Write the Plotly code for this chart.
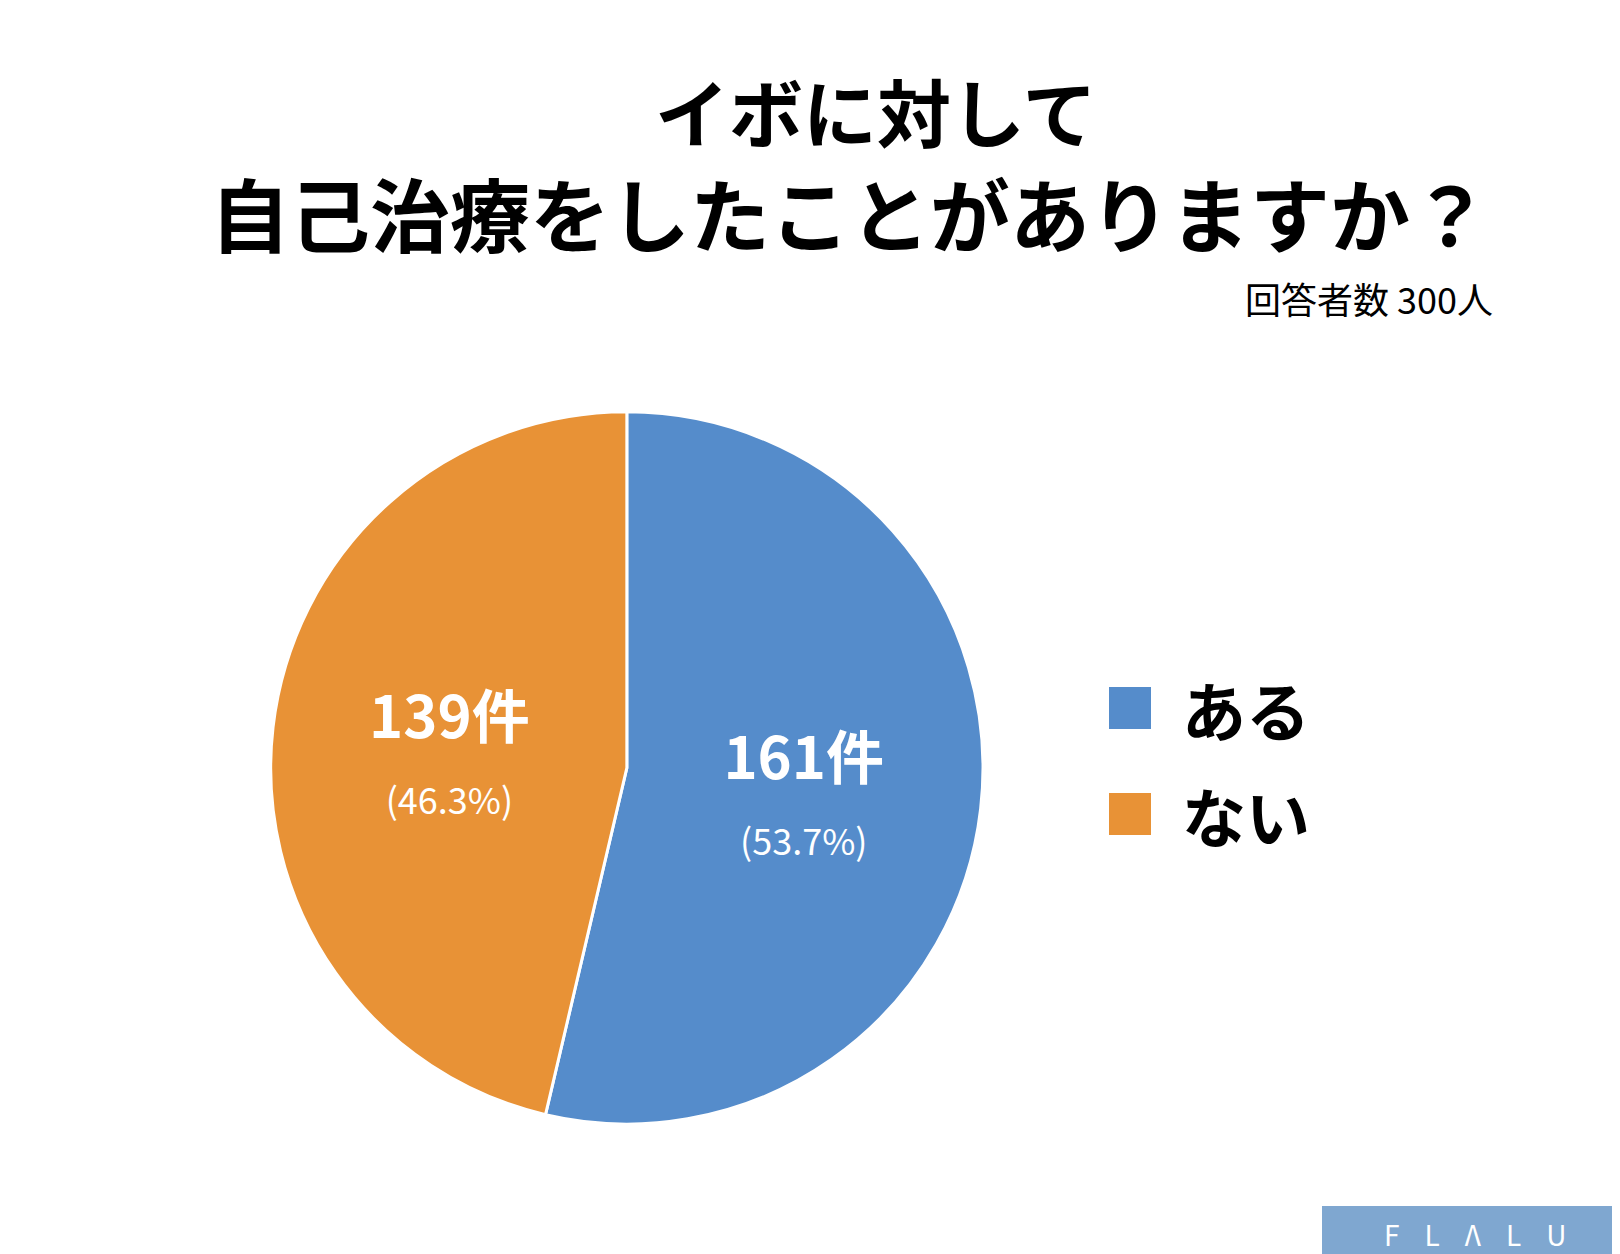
import plotly.graph_objects as go

labels = ["ある", "ない"]
counts = [161, 139]
colors = ["#558ccb", "#e89236"]
total = sum(counts)
pct = [f"{c / total * 100:.1f}" for c in counts]

W, H = 1620, 1254
font = "Noto Sans CJK JP"

fig = go.Figure(go.Pie(
    labels=labels,
    values=counts,
    sort=False,
    direction="clockwise",
    rotation=0,
    marker=dict(colors=colors, line=dict(color="white", width=3)),
    text=[f"<b>{c}件</b><br><span style='font-size:36px'>({p}%)</span>"
          for c, p in zip(counts, pct)],
    texttemplate="%{text}",
    textposition="inside",
    insidetextorientation="horizontal",
    textfont=dict(color="white", family=font, size=58),
    showlegend=False,
    hoverinfo="label+value",
    domain=dict(x=[0.161, 0.603], y=[0.110, 0.678]),
))

annotations = [
    dict(text="<b>イボに対して</b>", x=0.536, y=1 - 102 / H, font=dict(size=74, color="black")),
    dict(text="<b>自己治療をしたことがありますか？</b>", x=0.52, y=1 - 203 / H, font=dict(size=80, color="black")),
    dict(text="回答者数 300人", x=1487 / W, y=1 - 290 / H, xanchor="right", font=dict(size=36, color="black")),
    dict(text="F    L    Λ    L    U", x=1467 / W, y=1 - 1226 / H, font=dict(size=28, color="white")),
]
shapes = [dict(type="rect", xref="paper", yref="paper", x0=1314 / W, x1=1, y0=0, y1=56 / H,
               fillcolor="#7fa7d0", line=dict(width=0))]
for i, (lab, col) in enumerate(zip(labels, colors)):
    yc = 700 + i * 106
    shapes.append(dict(type="rect", xref="paper", yref="paper",
                       x0=1101 / W, x1=1143 / W, y0=1 - (yc + 21) / H, y1=1 - (yc - 21) / H,
                       fillcolor=col, line=dict(width=0)))
    annotations.append(dict(text=f"<b>{lab}</b>", x=1172 / W, y=1 - yc / H, xanchor="left",
                            font=dict(size=64, color="black")))
for a in annotations:
    a.update(xref="paper", yref="paper", showarrow=False, yanchor=a.get("yanchor", "middle"))
    a.setdefault("xanchor", "center")
    a["font"]["family"] = font

fig.update_layout(width=W, height=H, margin=dict(l=0, r=0, t=0, b=0),
                  paper_bgcolor="white", plot_bgcolor="white",
                  annotations=annotations, shapes=shapes, font=dict(family=font))
fig.write_html("out.html")
